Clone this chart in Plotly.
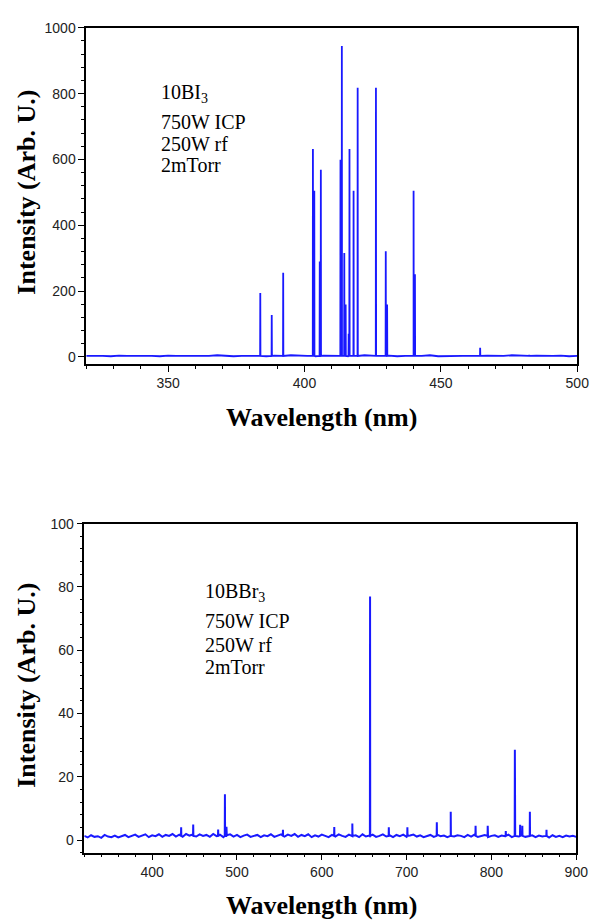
import plotly.graph_objects as go

# ---------------- data ----------------
# Top panel: 10BI3 spectrum
top_peak_wl = [383.8, 388.0, 392.2, 403.1, 403.6, 405.6, 406.0, 413.2, 413.7, 414.6, 415.1,
               416.2, 416.5, 418.0, 419.5, 426.2, 429.8, 430.3, 440.0, 440.5, 464.4, 482.4]
top_peak_int = [194, 127, 256, 632, 505, 290, 569, 599, 945, 316, 159,
                70, 632, 505, 818, 818, 321, 159, 505, 251, 28, 6]
top_base_wl = [320 + 3 * i for i in range(61)]
top_base_int = [3, 4, 3, 2, 4, 3, 3, 5, 3, 2, 4, 3, 3, 2, 4, 3, 5, 3, 2, 3, 4,
                3, 2, 4, 3, 5, 3, 3, 2, 4, 3, 4, 2, 3, 5, 3, 3, 4, 2, 3, 4,
                3, 5, 2, 3, 4, 3, 3, 2, 4, 3, 3, 5, 3, 2, 4, 3, 3, 4, 2, 3]

# Bottom panel: 10BBr3 spectrum
bot_peak_wl = [434.2, 448.4, 477.8, 485.8, 487.6, 554.2, 614.7, 636.0, 656.9, 679.0, 700.9,
               735.6, 752.0, 781.3, 795.6, 816.9, 827.6, 833.8, 836.4, 845.3, 864.9]
bot_peak_int = [4.0, 4.9, 3.3, 14.5, 4.2, 3.2, 4.1, 5.2, 77.0, 4.0, 4.0,
                5.6, 8.9, 4.5, 4.5, 2.8, 28.5, 4.8, 4.5, 8.9, 3.2]
bot_base_wl = [320 + 4 * i for i in range(146)]
bot_base_int = [1.3, 0.8, 1.5, 1.0, 1.2, 0.7, 1.6, 1.1, 0.9, 1.4, 0.8, 1.3, 1.6, 0.9, 1.2, 1.7,
                1.0, 1.4, 1.8, 0.9, 1.5, 1.2, 1.8, 1.0, 1.6, 1.3, 1.9, 1.1, 1.7, 1.0, 1.9, 1.4,
                1.7, 1.1, 1.8, 1.3, 1.6, 1.0, 1.9, 1.2, 1.7, 0.9, 1.5, 1.8, 1.1, 1.6, 0.9, 1.4,
                1.7, 1.0, 1.3, 1.6, 0.9, 1.5, 1.2, 1.8, 1.0, 1.4, 1.8, 1.1, 1.7, 1.3, 1.9, 1.0,
                1.6, 1.2, 1.8, 0.9, 1.5, 1.1, 1.7, 1.3, 0.9, 1.6, 1.1, 1.8, 1.3, 1.0, 1.7, 1.2,
                1.5, 0.9, 1.8, 1.1, 1.4, 1.7, 1.0, 1.3, 1.8, 1.1, 1.5, 0.9, 1.6, 1.2, 1.7, 1.0,
                1.4, 1.7, 1.1, 1.5, 0.9, 1.3, 1.6, 1.0, 1.7, 1.2, 1.4, 0.9, 1.6, 1.1, 1.5, 1.3,
                0.9, 1.6, 1.1, 1.7, 1.0, 1.4, 1.6, 0.9, 1.3, 1.5, 1.0, 1.4, 1.2, 1.7, 0.9, 1.3,
                1.1, 1.6, 1.0, 1.3, 1.5, 0.9, 1.4, 1.1, 1.3, 0.8, 1.5, 1.0, 1.3, 0.9, 1.4, 1.1,
                1.3, 1.0]

top_labels = ["10BI<sub>3</sub>", "750W ICP", "250W rf", "2mTorr"]
bot_labels = ["10BBr<sub>3</sub>", "750W ICP", "250W rf", "2mTorr"]
x_title = "Wavelength (nm)"
y_title = "Intensity (Arb. U.)"


def spectrum(base_wl, base_int, peak_wl, peak_int, half_width):
    pts = list(zip(base_wl, base_int))
    for w, v in zip(peak_wl, peak_int):
        pts += [(w - half_width, base_int[0]), (w, v), (w + half_width, base_int[0])]
    pts.sort(key=lambda p: p[0])
    return [p[0] for p in pts], [p[1] for p in pts]


tx, ty = spectrum(top_base_wl, top_base_int, top_peak_wl, top_peak_int, 0.06)
bx, by = spectrum(bot_base_wl, bot_base_int, bot_peak_wl, bot_peak_int, 0.2)

W, H = 602, 921
BLUE = "rgb(25,25,255)"

fig = go.Figure()
fig.add_trace(go.Scatter(x=tx, y=ty, mode="lines", line=dict(color=BLUE, width=1.8),
                         xaxis="x", yaxis="y", showlegend=False))
fig.add_trace(go.Scatter(x=bx, y=by, mode="lines", line=dict(color=BLUE, width=2.0),
                         xaxis="x2", yaxis="y2", showlegend=False))

tickfont = dict(family="Liberation Sans Narrow, Arial Narrow, Liberation Sans, sans-serif",
                size=14, color="#222")


def ax(rng, dtick, minor, domain, anchor):
    return dict(range=rng, dtick=dtick, domain=domain, anchor=anchor,
                showline=True, linecolor="black", linewidth=1.5, mirror=True,
                ticks="outside", ticklen=6, tickwidth=1.2, tickcolor="black",
                minor=dict(dtick=minor, ticks="outside", ticklen=3, tickwidth=1, tickcolor="black"),
                showgrid=False, zeroline=False, tickfont=tickfont)


def py(pix):
    return 1 - pix / H


fig.update_layout(
    width=W, height=H, margin=dict(l=0, r=0, t=0, b=0),
    paper_bgcolor="white", plot_bgcolor="white",
    xaxis=ax([320, 500], 50, 10, [88 / W, 589 / W], "y"),
    yaxis=ax([-21, 1000], 200, 40, [py(359.3), py(20)], "x"),
    xaxis2=ax([320, 900], 100, 20, [86 / W, 588 / W], "y2"),
    yaxis2=ax([-4, 100], 20, 4, [py(853), py(520.7)], "x2"),
)
fig.layout.xaxis.tick0 = 300
fig.layout.xaxis2.tick0 = 300

titlefont = dict(family="Liberation Serif, Times New Roman, serif", size=26, color="black")
annfont = dict(family="Liberation Serif, Times New Roman, serif", size=20, color="black")

anns = []
# axis titles
for cx, cy in [(328, 414), (328, 906)]:
    anns.append(dict(text="<b>" + x_title + "</b>", x=cx / W, y=py(cy), xref="paper", yref="paper",
                     showarrow=False, font=titlefont, xanchor="center", yanchor="middle"))
for cx, cy in [(27, 186), (27, 684)]:
    anns.append(dict(text="<b>" + y_title + "</b>", x=cx / W, y=py(cy), xref="paper", yref="paper",
                     showarrow=False, font=titlefont, xanchor="center", yanchor="middle",
                     textangle=-90))
# condition labels
for labels, x0, ys in [(top_labels, 162, [86, 115, 137, 159]),
                       (bot_labels, 207, [590, 619, 643, 666])]:
    for t, yy in zip(labels, ys):
        anns.append(dict(text=t, x=x0 / W, y=py(yy), xref="paper", yref="paper",
                         showarrow=False, font=annfont, xanchor="left", yanchor="middle"))
fig.update_layout(annotations=anns)

fig.write_html("out.html")
